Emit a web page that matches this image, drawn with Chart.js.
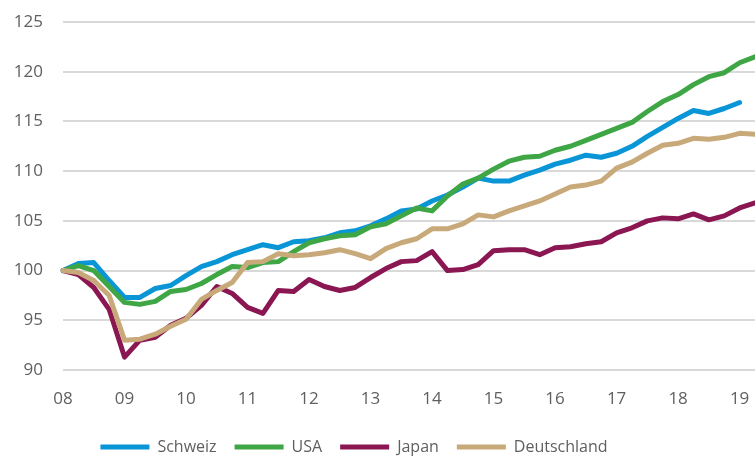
<!DOCTYPE html>
<html>
<head>
<meta charset="utf-8">
<script src="https://cdn.jsdelivr.net/npm/chart.js@4/dist/chart.umd.min.js"></script>
<style>
  html, body { margin:0; padding:0; background:#fff; }
  #wrap { width:755px; height:458px; }
</style>
</head>
<body>
<div id="wrap"><canvas id="chart"></canvas></div>
<script>
// quarterly, 2008 Q1 .. 2019 Q2
const YEARS = ['08','09','10','11','12','13','14','15','16','17','18','19'];
const QUARTERS = ['Q1','Q2','Q3','Q4'];
const LABELS = [];
YEARS.forEach(y => QUARTERS.forEach(q => LABELS.push(y + ' ' + q)));
LABELS.length = 46;

const Y_TICKS = [90, 95, 100, 105, 110, 115, 120, 125];

const SCHWEIZ = [100,100.7,100.8,99.0,97.3,97.3,98.2,98.5,99.5,100.4,
  100.9,101.6,102.1,102.6,102.3,102.9,103.0,103.3,103.8,104.0,
  104.5,105.2,106.0,106.2,107.0,107.6,108.4,109.3,109.0,109.0,
  109.6,110.1,110.7,111.1,111.6,111.4,111.8,112.5,113.5,114.4,
  115.3,116.1,115.8,116.3,116.9,null];
const USA = [100,100.5,100.0,98.4,96.8,96.6,96.9,97.9,98.1,98.7,
  99.6,100.4,100.3,100.8,100.9,101.9,102.8,103.2,103.5,103.6,
  104.4,104.7,105.5,106.3,106.0,107.5,108.7,109.3,110.2,111.0,
  111.4,111.5,112.1,112.5,113.1,113.7,114.3,114.9,116.0,117.0,
  117.7,118.7,119.5,119.9,120.9,121.5];
const JAPAN = [100,99.6,98.3,96.1,91.3,93.0,93.3,94.5,95.2,96.5,
  98.4,97.7,96.3,95.7,98.0,97.9,99.1,98.4,98.0,98.3,
  99.3,100.2,100.9,101.0,101.9,100.0,100.1,100.6,102.0,102.1,
  102.1,101.6,102.3,102.4,102.7,102.9,103.8,104.3,105.0,105.3,
  105.2,105.7,105.1,105.5,106.3,106.8];
const DEUTSCHLAND = [100,99.8,99.0,97.5,93.0,93.1,93.6,94.4,95.1,97.1,
  98.0,98.8,100.8,100.9,101.7,101.5,101.6,101.8,102.1,101.7,
  101.2,102.2,102.8,103.2,104.2,104.2,104.7,105.6,105.4,106.0,
  106.5,107.0,107.7,108.4,108.6,109.0,110.3,110.9,111.8,112.6,
  112.8,113.3,113.2,113.4,113.8,113.7];

const FONT = "'Open Sans', sans-serif";
const TEXT = '#5f5f5f';

function series(label, data, color, order){
  return {
    label, data, order,
    borderColor: color, backgroundColor: color,
    borderWidth: 5, pointRadius: 0, tension: 0,
    borderCapStyle: 'round', borderJoinStyle: 'round',
    spanGaps: false,
  };
}

// legend sits a bit lower and left of centre in the original
const legendShift = {
  id: 'legendShift',
  afterLayout(chart){
    const lg = chart.legend;
    lg.right -= 47;
    lg.top += 7;
    lg.bottom += 7;
  }
};

new Chart(document.getElementById('chart'), {
  type: 'line',
  data: {
    labels: LABELS,
    datasets: [
      series('Schweiz', SCHWEIZ, '#0a96d6', 4),
      series('USA', USA, '#3fa646', 3),
      series('Japan', JAPAN, '#8a1652', 2),
      series('Deutschland', DEUTSCHLAND, '#c8a97a', 1),
    ]
  },
  plugins: [legendShift],
  options: {
    responsive: true,
    maintainAspectRatio: false,
    animation: false,
    layout: { padding: { top: 22, right: 0, bottom: 0, left: 0 } },
    plugins: {
      tooltip: { enabled: false },
      legend: {
        position: 'bottom',
        labels: {
          usePointStyle: true,
          pointStyle: 'line',
          pointStyleWidth: 49,
          boxWidth: 49,
          padding: 18,
          color: TEXT,
          font: { family: FONT, size: 16 },
          sort: (a, b) => a.datasetIndex - b.datasetIndex,
        }
      }
    },
    scales: {
      x: {
        offset: false,
        afterFit: s => { s.height = 44; s.paddingLeft = 0; s.paddingRight = 0; },
        grid: { display: false, drawTicks: false },
        border: { display: false },
        ticks: {
          autoSkip: false, maxRotation: 0, padding: 19,
          color: TEXT, font: { family: FONT, size: 17 },
          callback: (v, i) => i % 4 === 0 ? YEARS[i / 4] : '',
        }
      },
      y: {
        min: Y_TICKS[0], max: Y_TICKS[Y_TICKS.length - 1],
        afterFit: s => { s.width = 63; s.paddingTop = 0; s.paddingBottom = 0; },
        afterBuildTicks: s => { s.ticks = Y_TICKS.map(v => ({ value: v })); },
        grid: { color: '#d9d9d9', lineWidth: 2, drawTicks: false },
        border: { display: false },
        ticks: {
          padding: 20, color: TEXT, font: { family: FONT, size: 17 },
        }
      }
    }
  }
});
</script>
</body>
</html>
